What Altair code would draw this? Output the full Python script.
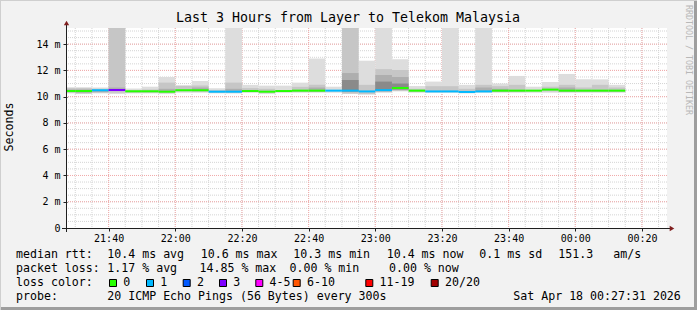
import altair as alt
import pandas as pd
import numpy as np

# ---------------- data ----------------
slot_end = ["21:30", "21:35", "21:40", "21:45", "21:50", "21:55", "22:00", "22:05",
            "22:10", "22:15", "22:20", "22:25", "22:30", "22:35", "22:40", "22:45",
            "22:50", "22:55", "23:00", "23:05", "23:10", "23:15", "23:20", "23:25",
            "23:30", "23:35", "23:40", "23:45", "23:50", "23:55", "00:00", "00:05",
            "00:10", "00:15"]

median_ms = [10.43, 10.43, 10.49, 10.51, 10.41, 10.41, 10.38, 10.49, 10.49, 10.38,
             10.38, 10.43, 10.38, 10.43, 10.46, 10.46, 10.46, 10.46, 10.40, 10.50,
             10.66, 10.46, 10.40, 10.40, 10.36, 10.40, 10.46, 10.46, 10.46, 10.54,
             10.46, 10.46, 10.46, 10.46]
lost_pings = [0, 0, 1, 3, 0, 0, 0, 0, 0, 1, 1, 0, 0, 0, 0, 0, 1, 1, 1, 1,
              0, 0, 1, 1, 1, 1, 0, 0, 0, 0, 0, 0, 0, 0]

N = None
# smoke bands (outer light -> inner dark): low / high in ms
band1_lo = [10.25, 10.20, 10.25, 10.20, 10.25, 10.25, 10.20, 10.30, 10.30, 10.25, 10.25, 10.30, 10.20, 10.30, 10.30, 10.30, 10.30, 10.20, 10.15, 10.30, 10.40, 10.30, 10.30, 10.30, 10.25, 10.30, 10.30, 10.30, 10.30, 10.30, 10.30, 10.30, 10.30, 10.30]
band1_hi = [10.72, 10.72, 10.70, 20.0, 10.62, 10.76, 11.50, 10.85, 11.20, 10.64, 20.0, 10.90, 10.84, 10.84, 11.07, 12.90, 10.76, 20.0, 12.74, 20.0, 12.85, 10.81, 11.15, 20.0, 10.90, 20.0, 11.00, 11.58, 10.76, 11.12, 11.73, 11.32, 11.32, 10.90]
band2_lo = [10.30, 10.25, 10.30, 10.30, 10.30, 10.30, 10.30, 10.40, 10.35, 10.30, 10.30, 10.35, 10.30, N, 10.35, 10.35, N, 10.25, 10.20, 10.35, 10.45, 10.35, 10.35, 10.35, 10.30, 10.35, 10.35, 10.35, N, 10.40, 10.35, 10.35, 10.35, 10.35]
band2_hi = [10.65, 10.65, 10.60, 20.0, 10.50, 10.55, 11.07, 10.84, 10.85, 10.50, 11.07, 10.65, 10.60, N, 10.75, 10.90, N, 20.0, 10.90, 12.10, 12.03, 10.60, 10.80, 10.80, 10.60, 10.90, 10.80, 10.90, N, 10.76, 10.90, 10.70, 10.90, 10.70]
band3_lo = [10.38, 10.30, 10.35, 10.45, N, N, 10.35, N, 10.45, N, 10.35, N, N, N, N, 10.40, N, 10.35, N, 10.40, 10.50, N, N, N, N, 10.40, 10.40, N, N, N, 10.40, N, N, N]
band3_hi = [10.55, 10.55, 10.50, 10.70, N, N, 10.60, N, 10.70, N, 10.60, N, N, N, N, 10.70, N, 11.80, N, 11.65, 11.50, N, N, N, N, 10.70, 10.60, N, N, N, 10.70, N, N, N]
band4_lo = [N, N, N, N, N, N, N, N, N, N, N, N, N, N, N, N, N, 10.40, N, 10.45, 10.55, N, N, N, N, N, N, N, N, N, N, N, N, N]
band4_hi = [N, N, N, N, N, N, N, N, N, N, N, N, N, N, N, N, N, 11.27, N, 11.15, 11.00, N, N, N, N, N, N, N, N, N, N, N, N, N]

band_colors = ["#dddddd", "#c6c6c6", "#aeaeae", "#8a8a8a"]

loss_labels = ["0", "1", "2", "3", "4-5", "6-10", "11-19", "20/20"]
loss_colors = ["#26ff00", "#00b8ff", "#0059ff", "#7e00ff", "#ff00ff", "#ff5500", "#ff0000", "#a10000"]

x_label_times = ["21:40", "22:00", "22:20", "22:40", "23:00", "23:20", "23:40", "00:00", "00:20"]
y_label_values = [0, 2, 4, 6, 8, 10, 12, 14]


def stamp(hhmm, sec="00"):
    day = "2026-04-18" if int(hhmm[:2]) < 12 else "2026-04-17"
    return f"{day}T{hhmm}:{sec}"


def loss_color(n):
    if n <= 3:
        return loss_colors[n]
    if n <= 5:
        return loss_colors[4]
    if n <= 10:
        return loss_colors[5]
    if n < 20:
        return loss_colors[6]
    return loss_colors[7]


ends = pd.to_datetime([stamp(t) for t in slot_end])
starts = ends - pd.Timedelta(minutes=5)

rows = []
bands = [(band1_lo, band1_hi), (band2_lo, band2_hi), (band3_lo, band3_hi), (band4_lo, band4_hi)]
for b, (lo, hi) in enumerate(bands):
    for i in range(len(slot_end)):
        if lo[i] is None:
            continue
        rows.append({"start": starts[i], "end": ends[i], "lo": lo[i], "hi": hi[i],
                     "col": band_colors[b], "band": b})
smoke = pd.DataFrame(rows)

med = pd.DataFrame({"start": starts, "end": ends, "median": median_ms,
                    "col": [loss_color(n) for n in lost_pings]})

x_domain = [pd.Timestamp(stamp("21:27", "31")).isoformat(),
            pd.Timestamp(stamp("00:27", "31")).isoformat()]
Y_MAX = 15.23

minor_t = pd.date_range(stamp("21:30"), stamp("00:25"), freq="5min")
major_t = pd.to_datetime([stamp(t) for t in x_label_times])
minor_y = np.arange(0.5, 15.01, 0.5)
major_y = np.array(y_label_values[1:])

FONT = "DejaVu Sans Mono"

xs = alt.Scale(domain=x_domain)
ys = alt.Scale(domain=[0, Y_MAX], nice=False, zero=True)

x_axis = alt.Axis(values=[t.isoformat() for t in major_t], format="%H:%M", title=None,
                  labelFont=FONT, labelFontSize=10, labelColor="#000000",
                  tickSize=3, tickColor="#1f1f1f", domain=False, grid=False,
                  labelPadding=2, labelFlush=False, labelOverlap=False)
y_axis = alt.Axis(values=y_label_values, title=None,
                  labelExpr="datum.value == 0 ? '0\u00a0\u00a0' : datum.value + '\u00a0m'",
                  labelFont=FONT, labelFontSize=10, labelColor="#000000",
                  tickSize=4, tickColor="#1f1f1f", domain=False, grid=False, labelPadding=3,
                  labelOverlap=False, labelFlush=False)


def X(f):
    return alt.X(f, scale=xs, axis=x_axis)


def Y(f):
    return alt.Y(f, scale=ys, axis=y_axis)


smoke_layer = alt.Chart(smoke).mark_rect(clip=True).encode(
    x=X("start:T"), x2="end:T", y=Y("lo:Q"), y2="hi:Q",
    color=alt.Color("col:N", scale=None),
)

MINOR = "#d4d4d4"
MAJOR = "#f2aaaa"
grid_minor_x = alt.Chart(pd.DataFrame({"t": minor_t})).mark_rule(
    color=MINOR, strokeWidth=1, strokeDash=[1, 1]).encode(x=X("t:T"))
grid_minor_y = alt.Chart(pd.DataFrame({"v": minor_y})).mark_rule(
    color=MINOR, strokeWidth=1, strokeDash=[1, 1]).encode(y=Y("v:Q"))
grid_major_x = alt.Chart(pd.DataFrame({"t": major_t})).mark_rule(
    color=MAJOR, strokeWidth=1, strokeDash=[1, 1]).encode(x=X("t:T"))
grid_major_y = alt.Chart(pd.DataFrame({"v": major_y})).mark_rule(
    color=MAJOR, strokeWidth=1, strokeDash=[1, 1]).encode(y=Y("v:Q"))

median_layer = alt.Chart(med).mark_rule(strokeWidth=2, clip=True).encode(
    x=X("start:T"), x2="end:T", y=Y("median:Q"),
    color=alt.Color("col:N", scale=None),
)

one = pd.DataFrame({"a": [0]})
PLOT_L, PLOT_T = 67, 28


def txt(s, x, y, size=11.6, color="#000000", align="left", angle=0, baseline="middle"):
    return alt.Chart(one).mark_text(text=s, font=FONT, fontSize=size, color=color,
                                    align=align, baseline=baseline, angle=angle).encode(
        x=alt.value(x - PLOT_L), y=alt.value(y - PLOT_T))


def rule(x1, y1, x2, y2, color, w=1):
    return alt.Chart(one).mark_rule(color=color, strokeWidth=w).encode(
        x=alt.value(x1 - PLOT_L), x2=alt.value(x2 - PLOT_L),
        y=alt.value(y1 - PLOT_T), y2=alt.value(y2 - PLOT_T))


deco = [
    rule(62, 228.5, 671, 228.5, "#1f1f1f"),
    rule(66.5, 232, 66.5, 24, "#1f1f1f"),
    alt.Chart(one).mark_point(shape="triangle-up", filled=True, size=28, color="#801f1f", opacity=1).encode(
        x=alt.value(66.5 - PLOT_L), y=alt.value(23 - PLOT_T)),
    alt.Chart(one).mark_point(shape="triangle-right", filled=True, size=28, color="#801f1f", opacity=1).encode(
        x=alt.value(672 - PLOT_L), y=alt.value(228.5 - PLOT_T)),
    rule(695.5, 0, 695.5, 310, "#9e9e9e", 3),
    rule(0, 308.5, 697, 308.5, "#9e9e9e", 3),
    rule(0, 0.5, 697, 0.5, "#cfcfcf", 1),
    rule(0.5, 0, 0.5, 310, "#cfcfcf", 1),
]

texts = [
    txt("Last 3 Hours from Layer to Telekom Malaysia", 348, 18, size=13.3, align="center"),
    txt("Seconds", 10, 127, size=11.6, align="center", angle=270),
    txt("RRDTOOL / TOBI OETIKER", 688, 60, size=8.3, color="#b8b8b8", align="center", angle=90),
    txt("median rtt:", 16, 254.5), txt("10.4 ms avg", 107.3, 254.5), txt("10.6 ms max", 200.7, 254.5),
    txt("10.3 ms min", 293.3, 254.5), txt("10.4 ms now", 386.7, 254.5), txt("0.1 ms sd", 479.3, 254.5),
    txt("151.3", 558.3, 254.5), txt("am/s", 613.3, 254.5),
    txt("packet loss:", 16, 268.5), txt("1.17 % avg", 107.3, 268.5), txt("14.85 % max", 199.5, 268.5),
    txt("0.00 % min", 289.5, 268.5), txt("0.00 % now", 389, 268.5),
    txt("loss color:", 16, 282.5),
    txt("probe:", 16, 296.5), txt("20 ICMP Echo Pings (56 Bytes) every 300s", 107.3, 296.5),
    txt("Sat Apr 18 00:27:31 2026", 513.3, 296.5),
]

box_x = [109, 146, 182.7, 219, 255.3, 292.7, 365.3, 430.7]
for bx, lab, c in zip(box_x, loss_labels, loss_colors):
    texts.append(alt.Chart(one).mark_rect(color=c, stroke="#000000", strokeWidth=1).encode(
        x=alt.value(bx - PLOT_L + 0.5), x2=alt.value(bx - PLOT_L + 7.5),
        y=alt.value(279 - PLOT_T + 0.5), y2=alt.value(286 - PLOT_T + 0.5)))
    texts.append(txt(lab, bx + 14.3, 282.5))

chart = alt.layer(
    grid_minor_x, grid_minor_y, grid_major_x, grid_major_y, smoke_layer, median_layer,
    *deco, *texts
).properties(
    width=600, height=200,
    autosize=alt.AutoSizeParams(type="none"),
    padding={"left": PLOT_L, "top": PLOT_T, "right": 697 - PLOT_L - 600, "bottom": 310 - PLOT_T - 200},
    background="#f2f2f2",
).configure_view(fill="#ffffff", stroke=None)

chart.save("out.html", embed_options={"renderer": "svg", "actions": False})
